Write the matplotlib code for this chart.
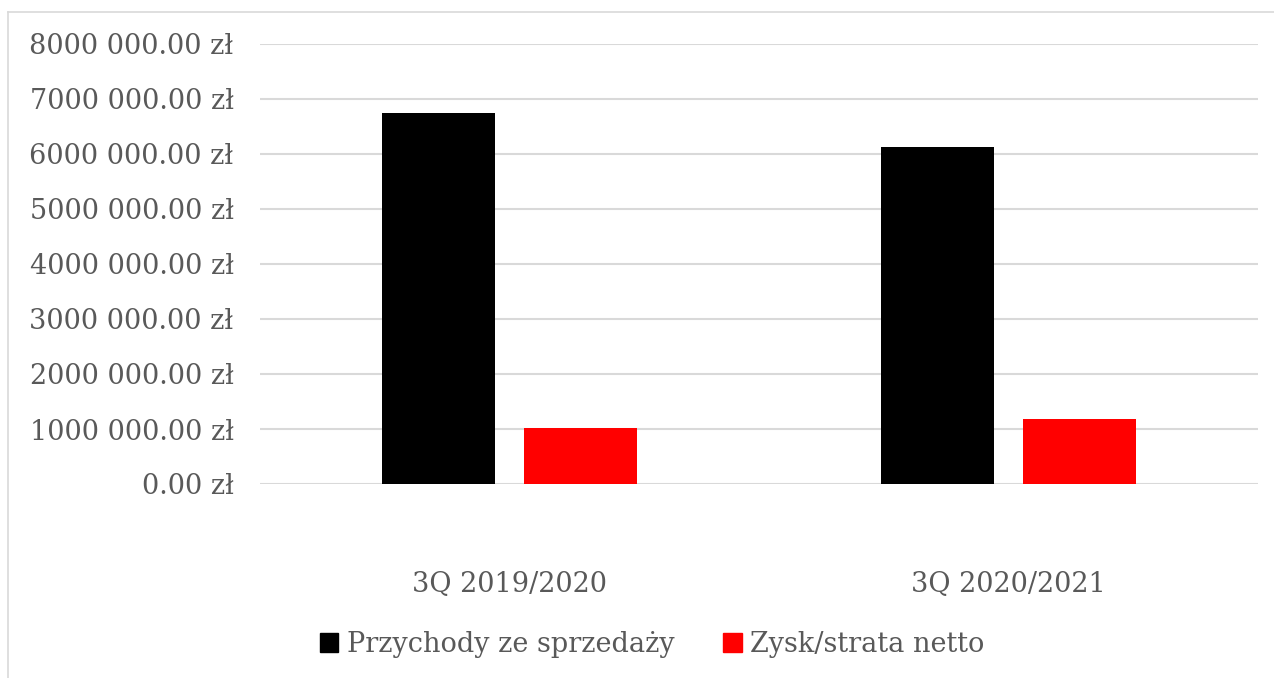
import matplotlib.pyplot as plt
from matplotlib.patches import Patch
from matplotlib.lines import Line2D
from matplotlib.ticker import FuncFormatter
import numpy as np

# data
categories = ['3Q 2019/2020', '3Q 2020/2021']
przychody = [6740000, 6130000]
zysk = [1025000, 1180000]
series_names = ['Przychody ze sprzedaży', 'Zysk/strata netto']
colors = ['#000000', '#ff0000']
yticks = [0, 1000000, 2000000, 3000000, 4000000, 5000000, 6000000, 7000000, 8000000]

plt.rcParams['font.family'] = ['DejaVu Serif']
txt = '#595959'
grid = '#d9d9d9'

W, H = 1274, 678
fig = plt.figure(figsize=(W / 100, H / 100), dpi=100)
ax = fig.add_axes([260 / W, 1 - 484 / H, (1258 - 260) / W, (484 - 44) / H])

x = np.arange(len(categories))
bw = 0.226
off = 0.143
ax.bar(x - off, przychody, bw, color=colors[0], zorder=3)
ax.bar(x + off, zysk, bw, color=colors[1], zorder=3)

ax.set_xlim(-0.5, 1.5)
ax.set_ylim(0, 8000000)
ax.set_yticks(yticks)


def fmt(v, pos):
    v = int(round(v))
    if v >= 1000:
        return f"{v // 1000} {v % 1000:03d}.00 zł"
    return f"{v}.00 zł"


ax.yaxis.set_major_formatter(FuncFormatter(fmt))
ax.set_xticks(x)
ax.set_xticklabels(categories)
ax.tick_params(axis='y', length=0, pad=19, labelsize=19.5, labelcolor=txt)
ax.tick_params(axis='x', length=0, pad=63, labelsize=19.5, labelcolor=txt)
ax.grid(axis='y', color=grid, linewidth=1.5, zorder=0)
for s in ax.spines.values():
    s.set_visible(False)

# chart border (top and left visible)
fig.add_artist(Line2D([8 / W, 1], [1 - 12 / H, 1 - 12 / H], color=grid, lw=1.2))
fig.add_artist(Line2D([8 / W, 8 / W], [0, 1 - 12 / H], color=grid, lw=1.2))

handles = [Patch(color=c, label=n) for c, n in zip(colors, series_names)]
leg = fig.legend(handles=handles, loc='center', bbox_to_anchor=(652 / W, 1 - 644 / H),
                 ncol=2, frameon=False, fontsize=19.5, handlelength=0.7, handleheight=0.7,
                 handletextpad=0.3, columnspacing=1.8)
for t in leg.get_texts():
    t.set_color(txt)

fig.savefig('out.png', dpi=100)
